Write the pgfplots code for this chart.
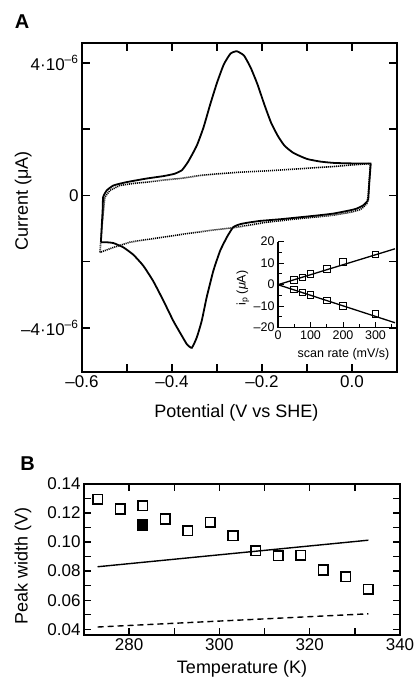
\documentclass[border=0pt]{standalone}
\usepackage{pgfplots}
\pgfplotsset{compat=1.18}
\usepackage{fontspec}
\setmainfont{Liberation Sans}

\begin{document}
\begin{tikzpicture}
\useasboundingbox (0pt,0pt) rectangle (415pt,679pt);
\node[font=\fontsize{20}{20}\selectfont\bfseries] at (22pt,657pt) {A};
\node[font=\fontsize{20}{20}\selectfont\bfseries] at (27.5pt,215pt) {B};

% ---------- Panel A ----------
\begin{axis}[
  at={(82pt,307pt)}, anchor=south west,
  scale only axis, width=315pt, height=329pt,
  xmin=-0.6, xmax=0.1, ymin=-5.33, ymax=4.6,
  xtick={-0.6,-0.4,-0.2,0}, xticklabels={–0.6,–0.4,–0.2,0.0},
  minor xtick={-0.5,-0.3,-0.1},
  ytick={-4,0,4},
  yticklabels={–4·10\textsuperscript{–6},0,4·10\textsuperscript{–6}},
  minor ytick={-2,2},
  tick align=inside, tick pos=both,
  major tick length=8pt, minor tick length=8pt,
  every tick/.style={line width=1.3pt, black},
  axis line style={line width=1.6pt},
  tick label style={font=\fontsize{17}{17}\selectfont},
  label style={font=\fontsize{18}{18}\selectfont},
  xlabel={Potential (V vs SHE)}, ylabel={Current (μA)},
  xlabel style={at={(axis description cs:0.49,-0.123)}, anchor=center},
  ylabel style={at={(axis description cs:-0.187,0.52)}, anchor=center},
]
% background (dotted)
\addplot[black, line width=1.6pt, dash pattern=on 1.1pt off 0.9pt] coordinates {
(-0.560,-1.72) (-0.556,-1.0) (-0.552,-0.4) (-0.549,-0.05) (-0.538,0.15)
(-0.516,0.30) (-0.486,0.36) (-0.456,0.40) (-0.42,0.46) (-0.382,0.51)
(-0.338,0.60) (-0.30,0.65) (-0.25,0.70) (-0.190,0.74) (-0.12,0.80)
(-0.042,0.87) (0.0,0.92) (0.041,0.96)
(0.038,0.4) (0.036,0.0) (0.033,-0.25) (0.025,-0.36) (0.018,-0.43)
(0.0,-0.50) (-0.042,-0.60) (-0.116,-0.70) (-0.19,-0.81) (-0.256,-0.96)
(-0.316,-1.06) (-0.37,-1.16) (-0.419,-1.26) (-0.460,-1.34) (-0.493,-1.41)
(-0.530,-1.57) (-0.560,-1.72)
};
% protein film (solid)
\addplot[black, line width=1.8pt, smooth, tension=0.3] coordinates {
(-0.558,-1.415) (-0.556,-0.9) (-0.554,-0.4) (-0.553,-0.05) (-0.545,0.15)
(-0.530,0.30) (-0.501,0.40) (-0.456,0.51) (-0.420,0.58) (-0.395,0.65)
(-0.378,0.76) (-0.364,1.02) (-0.345,1.50) (-0.330,2.05) (-0.315,2.75)
(-0.300,3.40) (-0.285,3.95) (-0.270,4.28) (-0.256,4.35) (-0.240,4.22)
(-0.225,3.85) (-0.210,3.35) (-0.195,2.75) (-0.180,2.20) (-0.165,1.80)
(-0.150,1.50) (-0.130,1.28) (-0.100,1.10) (-0.070,1.02) (-0.040,0.98)
(0.0,0.965) (0.0416,0.96)
};
\addplot[black, line width=1.8pt] coordinates {
(0.0416,0.96) (0.038,0.3) (0.036,-0.15)
};
\addplot[black, line width=1.8pt, smooth, tension=0.3] coordinates {
(0.036,-0.15) (0.025,-0.30) (0.010,-0.40) (-0.004,-0.45) (-0.042,-0.55)
(-0.080,-0.61) (-0.116,-0.66) (-0.160,-0.72) (-0.204,-0.77) (-0.230,-0.82)
(-0.249,-0.87) (-0.264,-0.96) (-0.278,-1.26) (-0.293,-1.67) (-0.308,-2.27)
(-0.323,-3.08) (-0.334,-3.79) (-0.345,-4.29) (-0.356,-4.60) (-0.367,-4.49)
(-0.378,-4.24) (-0.397,-3.79) (-0.419,-3.18) (-0.442,-2.58) (-0.464,-2.12)
(-0.486,-1.79) (-0.508,-1.57) (-0.530,-1.44) (-0.545,-1.415) (-0.558,-1.415)
};
\end{axis}

% ---------- Inset ----------
\begin{axis}[
  at={(278pt,351.3pt)}, anchor=south west,
  scale only axis, width=117pt, height=86pt,
  xmin=0, xmax=360, ymin=-20, ymax=20,
  axis x line=bottom, axis y line=left,
  axis line style={-, line width=1.3pt},
  xtick={0,100,200,300}, minor xtick={50,150,250,350},
  ytick={-20,-10,0,10,20}, yticklabels={–20,–10,0,10,20},
  minor ytick={-15,-5,5,15},
  tick align=inside,
  major tick length=6pt, minor tick length=4pt,
  every tick/.style={line width=1pt, black},
  tick label style={font=\fontsize{12.5}{12.5}\selectfont},
  /pgf/number format/assume math mode=true,
  label style={font=\fontsize{12.5}{12.5}\selectfont},
  xlabel={scan rate (mV/s)},
  ylabel={i\textsubscript{p} (\textit{μ}A)},
  xlabel style={at={(axis description cs:0.56,-0.31)}, anchor=center},
  ylabel style={at={(axis description cs:-0.30,0.46)}, anchor=center},
  clip=false,
]
\addplot[black, line width=1.3pt] coordinates {(0,0) (360,16.7)};
\addplot[black, line width=1.3pt] coordinates {(0,0) (360,-17.7)};
\addplot[only marks, mark=square, mark size=3.3pt, mark options={line width=1pt, fill=white, draw=black}] coordinates {
(50,2.3) (75,3.3) (100,4.9) (150,7.4) (200,10.5) (300,14.1)
(50,-2.3) (75,-3.7) (100,-4.7) (150,-7.3) (200,-10.0) (300,-13.7)
};
\end{axis}

% ---------- Panel B ----------
\begin{axis}[
  at={(84pt,44pt)}, anchor=south west,
  scale only axis, width=316pt, height=151pt,
  xmin=270, xmax=340, ymin=0.036, ymax=0.14,
  xtick={280,300,320,340}, xticklabels={280,300,320,340},
  minor xtick={290,310,330},
  ytick={0.04,0.06,0.08,0.10,0.12,0.14},
  yticklabels={0.04,0.06,0.08,0.10,0.12,0.14},
  minor ytick={0.05,0.07,0.09,0.11,0.13},
  tick align=inside, tick pos=both,
  major tick length=7pt, minor tick length=7pt,
  every tick/.style={line width=1.3pt, black},
  axis line style={line width=1.6pt},
  tick label style={font=\fontsize{17}{17}\selectfont},
  label style={font=\fontsize{18}{18}\selectfont},
  xlabel={Temperature (K)}, ylabel={Peak width (V)},
  xlabel style={at={(axis description cs:0.5,-0.225)}, anchor=center},
  ylabel style={at={(axis description cs:-0.193,0.46)}, anchor=center},
]
\addplot[black, line width=1.4pt] coordinates {(273,0.0830) (333,0.1013)};
\addplot[black, line width=1.4pt, dash pattern=on 6pt off 4pt] coordinates {(273,0.0415) (333,0.0506)};
\addplot[only marks, mark=square, mark size=4.8pt, mark options={line width=1.6pt, fill=white, draw=black}] coordinates {
(273,0.1294) (278,0.1228) (283,0.1250) (288,0.1159) (293,0.1078)
(298,0.1136) (303,0.1043) (308,0.0940) (313,0.0906) (318,0.0910)
(323,0.0807) (328,0.0761) (333,0.0676)
};
\addplot[only marks, mark=square*, mark size=4.8pt, mark options={line width=1.6pt, fill=black, draw=black}] coordinates {
(283,0.1117)
};
\end{axis}
\end{tikzpicture}
\end{document}
